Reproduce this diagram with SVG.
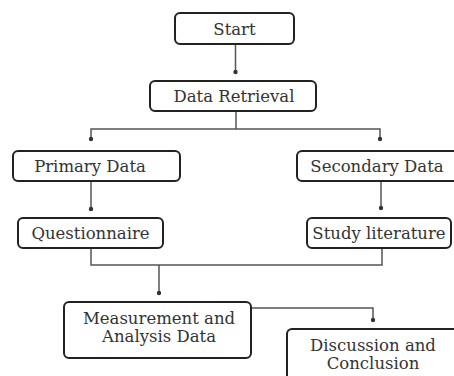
<svg xmlns="http://www.w3.org/2000/svg" width="454" height="376" viewBox="0 0 454 376">
<style>
.box{fill:#fff;stroke:#222;stroke-width:2}
.lbl{font-family:"DejaVu Serif","Liberation Serif",serif;font-size:16.5px;fill:#333;text-anchor:middle}
.ln{fill:none;stroke:#555;stroke-width:1.5}
.dot{fill:#333}
</style>
<rect width="454" height="376" fill="#fff"/>
<g id="connectors">
<path class="ln" d="M235.5 44V72"/>
<circle class="dot" cx="235.5" cy="72" r="2.2"/>
<path class="ln" d="M236 111V129M91 139V129H380V139"/>
<circle class="dot" cx="91" cy="139" r="2.2"/>
<circle class="dot" cx="380" cy="139" r="2.2"/>
<path class="ln" d="M91 181V209"/>
<circle class="dot" cx="91" cy="209" r="2.2"/>
<path class="ln" d="M381 181V208"/>
<circle class="dot" cx="381" cy="208" r="2.2"/>
<path class="ln" d="M91 248V265H382V248M159 265V293"/>
<circle class="dot" cx="159" cy="293" r="2.2"/>
<path class="ln" d="M251 308H373V320"/>
<circle class="dot" cx="373" cy="320" r="2.2"/>
</g>
<g id="start">
<rect class="box" x="175" y="13" width="119" height="31" rx="5"/>
<text class="lbl" x="234.5" y="35">Start</text>
</g>
<g id="data-retrieval">
<rect class="box" x="150" y="81" width="166" height="30" rx="5"/>
<text class="lbl" x="234" y="101.5">Data Retrieval</text>
</g>
<g id="primary-data">
<rect class="box" x="13" y="151" width="167" height="30" rx="5"/>
<text class="lbl" x="90" y="172">Primary Data</text>
</g>
<g id="secondary-data">
<rect class="box" x="297" y="151" width="165" height="30" rx="5"/>
<text class="lbl" x="377" y="172">Secondary Data</text>
</g>
<g id="questionnaire">
<rect class="box" x="18" y="218" width="145" height="30" rx="5"/>
<text class="lbl" x="90.5" y="239">Questionnaire</text>
</g>
<g id="study-literature">
<rect class="box" x="307" y="218" width="144" height="30" rx="5"/>
<text class="lbl" x="379" y="239">Study literature</text>
</g>
<g id="measurement">
<rect class="box" x="64" y="302" width="187" height="56" rx="5"/>
<text class="lbl" x="159" y="324">Measurement and</text>
<text class="lbl" x="159" y="342">Analysis Data</text>
</g>
<g id="discussion">
<rect class="box" x="287" y="329" width="180" height="60" rx="5"/>
<text class="lbl" x="373" y="351">Discussion and</text>
<text class="lbl" x="373" y="369">Conclusion</text>
</g>
</svg>
